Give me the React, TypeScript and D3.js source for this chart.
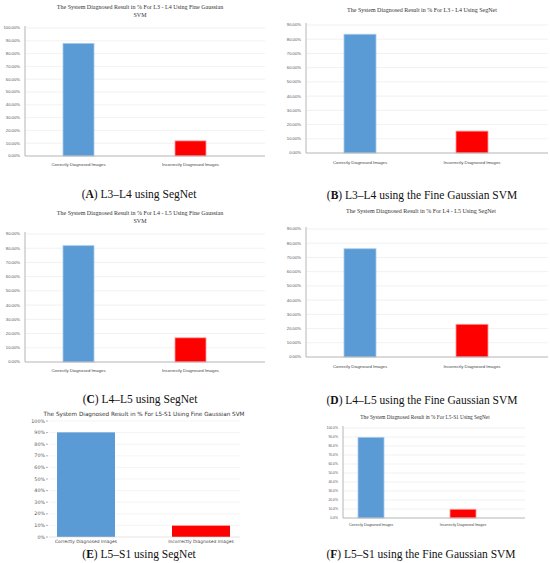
import * as d3 from "d3";

const categories = ["Correctly Diagnosed Images", "Incorrectly Diagnosed Images"];

const valuesA = [88, 11.8];
const valuesB = [83.5, 15.4];
const valuesC = [81.8, 17];
const valuesD = [76.1, 23];
const valuesE = [90.2, 9.8];
const valuesF = [89.6, 9.7];

const ticks100 = [0, 10, 20, 30, 40, 50, 60, 70, 80, 90, 100];
const ticks90 = [0, 10, 20, 30, 40, 50, 60, 70, 80, 90];

const titlesA = ["The System Diagnosed Result in % For L3 - L4 Using Fine Gaussian", "SVM"];
const titlesB = ["The System Diagnosed Result in % For L3 - L4 Using SegNet"];
const titlesC = ["The System Diagnosed Result in % For L4 - L5 Using Fine Gaussian", "SVM"];
const titlesD = ["The System Diagnosed Result in % For L4 - L5 Using SegNet"];
const titlesE = ["The System Diagnosed Result in % For L5-S1  Using Fine Gaussian SVM"];
const titlesF = ["The System Diagnosed Result in % For L5-S1 Using SegNet"];

const captions = [
  { letter: "A", text: " L3–L4 using SegNet", x: 139, y: 194 },
  { letter: "B", text: " L3–L4 using the Fine Gaussian SVM", x: 422, y: 195 },
  { letter: "C", text: " L4–L5 using SegNet", x: 140, y: 399 },
  { letter: "D", text: " L4–L5 using the Fine Gaussian SVM", x: 422, y: 400 },
  { letter: "E", text: " L5–S1 using SegNet", x: 139, y: 554 },
  { letter: "F", text: " L5–S1 using the Fine Gaussian SVM", x: 421, y: 554 },
];

const SERIF = "'Liberation Serif', 'DejaVu Serif', serif";
const SANS = "'Liberation Sans', Arial, sans-serif";
const DEJAVU = "'DejaVu Sans', sans-serif";

type PanelProps = {
  values: number[];
  ticks: number[];
  fmt: (v: number) => string;
  titles: string[];
  titleX: number;
  titleY: number;
  titleFont: string;
  titleSize: number;
  x0: number;
  x1: number;
  yTop: number;
  yBot: number;
  centers: [number, number];
  barW: number;
  tickSize: number;
  catSize: number;
  catY: number;
  font: string;
  style: "excel" | "mpl";
};

function BarPanel(p: PanelProps) {
  const max = p.ticks[p.ticks.length - 1];
  const y = d3.scaleLinear().domain([0, max]).range([p.yBot, p.yTop]);
  const x = d3.scalePoint<string>().domain(categories).range(p.centers);
  const colors = ["#5b9bd5", "#ff0000"];
  const strokes = ["#a9c8ea", "#ff9a9a"];
  const mpl = p.style === "mpl";

  return (
    <g>
      {p.titles.map((t, i) => (
        <text
          key={i}
          x={p.titleX}
          y={p.titleY + i * p.titleSize * 1.35}
          textAnchor="middle"
          dy="0.35em"
          fontFamily={p.titleFont}
          fontSize={p.titleSize}
          fill="#333"
        >
          {t}
        </text>
      ))}
      {p.ticks.map((t) => (
        <g key={t}>
          {t > 0 && (
            <line x1={p.x0} x2={p.x1} y1={y(t)} y2={y(t)} stroke={mpl ? "#ececec" : "#e8e8e8"} strokeWidth={0.6} />
          )}
          {mpl && <line x1={p.x0 - 3} x2={p.x0 - 1} y1={y(t)} y2={y(t)} stroke="#666" strokeWidth={0.5} />}
          <text
            x={p.x0 - (mpl ? 4 : 5)}
            y={y(t)}
            dy="0.35em"
            textAnchor="end"
            fontFamily={p.font}
            fontSize={p.tickSize}
            fill="#555"
          >
            {p.fmt(t)}
          </text>
        </g>
      ))}
      {categories.map((c, i) => (
        <rect
          key={c}
          x={x(c)! - p.barW / 2}
          width={p.barW}
          y={y(p.values[i])}
          height={y(0) - y(p.values[i])}
          fill={colors[i]}
          stroke={mpl ? "none" : strokes[i]}
          strokeWidth={0.8}
        />
      ))}
      {!mpl && <line x1={p.x0} x2={p.x0} y1={p.yTop - 2} y2={p.yBot} stroke="#b5b5b5" strokeWidth={1} />}
      <line x1={p.x0} x2={p.x1} y1={p.yBot} y2={p.yBot} stroke={mpl ? "#d0d0d0" : "#b5b5b5"} strokeWidth={mpl ? 0.6 : 1} />
      {categories.map((c) => (
        <text
          key={c}
          x={x(c)!}
          y={p.catY}
          dy="0.35em"
          textAnchor="middle"
          fontFamily={p.font}
          fontSize={p.catSize}
          fill="#444"
        >
          {c}
        </text>
      ))}
    </g>
  );
}

const pct2 = (v: number) => `${v.toFixed(2)}%`;
const pct0 = (v: number) => `${v}%`;
const pct1 = (v: number) => `${v.toFixed(1)}%`;

export default function App() {
  return (
    <div style={{ position: "fixed", left: 0, top: 0, background: "#fff" }}>
      <svg width={550} height={563} style={{ display: "block" }}>
        <rect width={550} height={563} fill="#fff" />
        <BarPanel
          values={valuesA} ticks={ticks100} fmt={pct2} titles={titlesA}
          titleX={140} titleY={7} titleFont={SERIF} titleSize={6}
          x0={25} x1={265} yTop={28} yBot={156} centers={[78.5, 190.5]} barW={31}
          tickSize={4.2} catSize={4.3} catY={164} font={SANS} style="excel"
        />
        <BarPanel
          values={valuesB} ticks={ticks90} fmt={pct2} titles={titlesB}
          titleX={422} titleY={10} titleFont={SERIF} titleSize={6}
          x0={306} x1={548} yTop={25} yBot={153} centers={[360, 472]} barW={32}
          tickSize={4.2} catSize={4.3} catY={162} font={SANS} style="excel"
        />
        <BarPanel
          values={valuesC} ticks={ticks90} fmt={pct2} titles={titlesC}
          titleX={140} titleY={213} titleFont={SERIF} titleSize={6}
          x0={25} x1={265} yTop={234} yBot={362} centers={[78.5, 190.5]} barW={31}
          tickSize={4.2} catSize={4.3} catY={370} font={SANS} style="excel"
        />
        <BarPanel
          values={valuesD} ticks={ticks90} fmt={pct2} titles={titlesD}
          titleX={421} titleY={211} titleFont={SERIF} titleSize={6}
          x0={306} x1={548} yTop={229} yBot={357} centers={[360, 472]} barW={32}
          tickSize={4.2} catSize={4.3} catY={366} font={SANS} style="excel"
        />
        <BarPanel
          values={valuesE} ticks={ticks100} fmt={pct0} titles={titlesE}
          titleX={144} titleY={414} titleFont={DEJAVU} titleSize={5.7}
          x0={49} x1={240} yTop={421} yBot={537} centers={[86, 201]} barW={58}
          tickSize={4.8} catSize={4.4} catY={541.5} font={DEJAVU} style="mpl"
        />
        <BarPanel
          values={valuesF} ticks={ticks100} fmt={pct1} titles={titlesF}
          titleX={425} titleY={417} titleFont={SERIF} titleSize={5.3}
          x0={343} x1={525} yTop={428} yBot={518} centers={[371, 463]} barW={26}
          tickSize={3.4} catSize={3.5} catY={525} font={SANS} style="excel"
        />
        {captions.map((c) => (
          <text
            key={c.letter}
            x={c.x}
            y={c.y}
            dy="0.35em"
            textAnchor="middle"
            fontFamily={SERIF}
            fontSize={11.5}
            fill="#111"
          >
            (<tspan fontWeight="bold">{c.letter}</tspan>){c.text}
          </text>
        ))}
      </svg>
    </div>
  );
}
